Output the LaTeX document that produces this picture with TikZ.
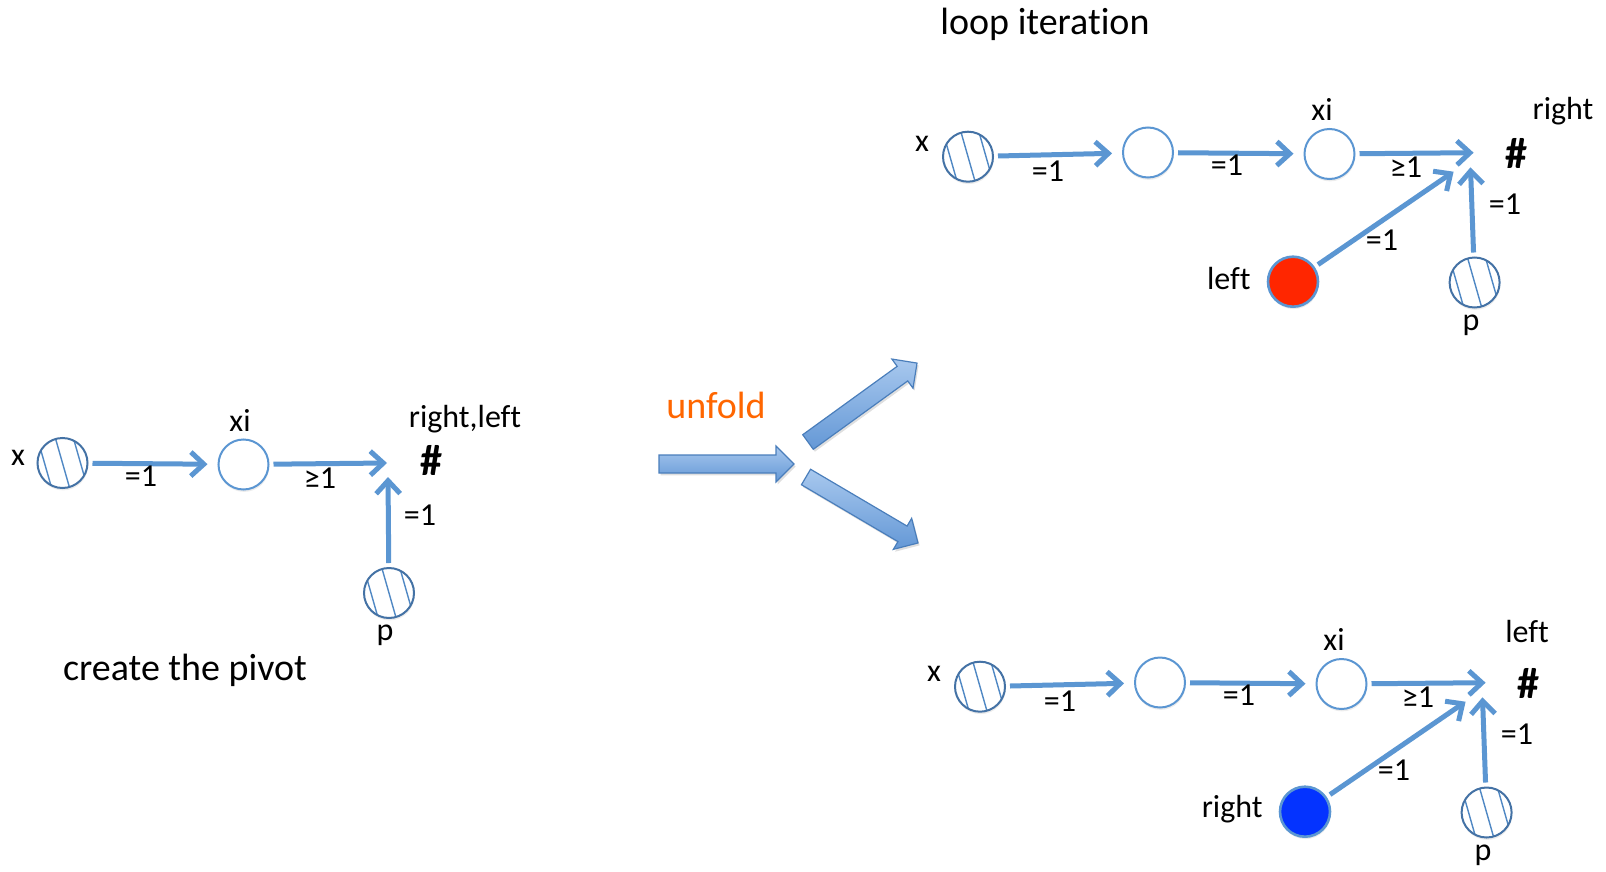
\documentclass[tikz,border=0pt]{standalone}
\usepackage{fontspec}
\setmainfont{Carlito}[Ligatures=NoCommon]
\usetikzlibrary{arrows.meta,shadows}

\definecolor{linkblue}{RGB}{91,150,210}
\definecolor{ringblue}{RGB}{91,150,210}
\definecolor{darkring}{RGB}{68,114,165}
\definecolor{hatchblue}{RGB}{80,136,196}
\definecolor{arrowtop}{RGB}{168,200,238}
\definecolor{arrowbottom}{RGB}{100,152,214}
\definecolor{arrowedge}{RGB}{74,126,187}
\definecolor{unfoldorange}{RGB}{255,102,0}
\definecolor{leftred}{RGB}{255,38,0}
\definecolor{rightblue}{RGB}{4,51,255}

\tikzset{
  softshadow/.style={drop shadow={opacity=0.15, shadow xshift=0.3pt, shadow yshift=-1.2pt}},
  plain/.style={circle, draw=ringblue, line width=1pt, fill=white,
    minimum size=25pt, inner sep=0pt, softshadow},
  hatched/.style={plain, draw=darkring,
    path picture={
      \foreach \d in {-9,0,9}
        \draw[hatchblue, line width=0.7pt]
          (path picture bounding box.center) ++({\d*1pt-4pt},14pt) -- ++(8pt,-28pt);
    }},
  dot/.style={circle, draw=ringblue, line width=1.3pt, minimum size=25pt,
    inner sep=0pt, softshadow},
  link/.style={draw=linkblue, line width=2.5pt,
    -{Straight Barb[length=6.5pt,width=12pt]}, shorten <=2pt},
  tonode/.style={shorten >=5pt},
  lbl/.style={font=\fontsize{16}{18}\selectfont, inner sep=0pt},
  heading/.style={font=\fontsize{19}{22}\selectfont, inner sep=0pt},
  hash/.style={font=\bfseries\fontsize{22}{24}\selectfont, inner sep=0pt},
  blockstyle/.style={draw=arrowedge, line width=0.6pt, top color=arrowtop,
    bottom color=arrowbottom,
    drop shadow={opacity=0.25, shadow xshift=0.8pt, shadow yshift=-1.2pt}}
}

% block arrow: tail centre (#1,#2), direction #3 degrees, length #4
\newcommand\blockarrow[4]{%
  \begin{scope}[shift={(#1,#2)}, rotate=#3]
    \path[blockstyle] (0,-9) -- ({#4-18},-9) -- ({#4-18},-18) -- (#4,0)
      -- ({#4-18},18) -- ({#4-18},9) -- (0,9) -- cycle;
  \end{scope}}

% one unfolded list: prefix, shift, label at the hub, its position,
% fill of the marked cell, its label
\newcommand\loopgroup[9]{%
  \begin{scope}[shift={(#2,#3)}]
    \node[hatched] (#1x) at (968,156.7) {};
    \node[lbl] (#1xlab) at (922,144) {x};
    \node[plain] (#1m) at (1148,152.5) {};
    \node[plain] (#1xi) at (1329.5,154) {};
    \node[lbl] (#1xilab) at (1322,109) {xi};
    \node[hash] (#1hash) at (1516,153) {\#};
    \node[lbl] (#1hashlab) at (#5,#6) {#4};
    \node[dot, fill=#7] (#1dot) at (1293,281.7) {};
    \node[lbl, anchor=east] (#1dotlab) at (1251,279) {#8};
    \node[hatched] (#1p) at (1474.6,282.5) {};
    \node[lbl] (#1plab) at (1471,325) {p};
    \coordinate (#1in1) at (1473.6,152.7);
    \coordinate (#1in2) at (1453.6,171.7);
    \coordinate (#1in3) at (1470.5,167.3);
    \draw[link, tonode] (#1x) -- (#1m);
    \draw[link, tonode] (#1m) -- (#1xi);
    \draw[link] (#1xi) -- (#1in1);
    \draw[link] (#1dot) -- (#1in2);
    \draw[link] (#1p) -- (#1in3);
    \node[lbl] (#1e1) at (1048,171) {=1};
    \node[lbl] (#1e2) at (1227,165) {=1};
    \node[lbl] (#1e3) at (1406,167) {≥1};
    \node[lbl] (#1e4) at (1382,240) {=1};
    \node[lbl] (#1e5) at (1505,204) {=1};
  \end{scope}}

\begin{document}
\begin{tikzpicture}[x=0.5pt, y=-0.5pt]
  \useasboundingbox (0,0) rectangle (1606,872);

  % pivot creation
  \node[hatched] (lx) at (62.5,463) {};
  \node[lbl] (lxlab) at (18,458) {x};
  \node[plain] (lxi) at (243.5,464.5) {};
  \node[lbl] (lxilab) at (240,420) {xi};
  \node[hatched] (lp) at (389,593) {};
  \node[lbl] (lplab) at (385,635) {p};
  \node[hash] (lhash) at (431,460) {\#};
  \node[lbl] (lhashlab) at (465,419) {right,left};
  \coordinate (lin1) at (387,463);
  \coordinate (lin2) at (388,477);
  \draw[link, tonode] (lx) -- (lxi);
  \draw[link] (lxi) -- (lin1);
  \draw[link] (lp) -- (lin2);
  \node[lbl] (le1) at (141,476) {=1};
  \node[lbl] (le2) at (320,478) {≥1};
  \node[lbl] (le3) at (420,515) {=1};
  \node[heading] (pivot) at (185,670) {create the pivot};

  % unfolding step
  \node[heading, text=unfoldorange] (unfold) at (716,405) {unfold};
  \blockarrow{659}{464}{0}{135}
  \blockarrow{808}{442}{35.9}{134.6}
  \blockarrow{806}{477}{-30.5}{130}

  % the two results
  \node[heading] (loop) at (1045,24) {loop iteration};
  \loopgroup{t}{0}{0}{right}{1563}{111}{leftred}{left}{}
  \loopgroup{b}{12}{530}{left}{1515}{102}{rightblue}{right}{}
\end{tikzpicture}
\end{document}
